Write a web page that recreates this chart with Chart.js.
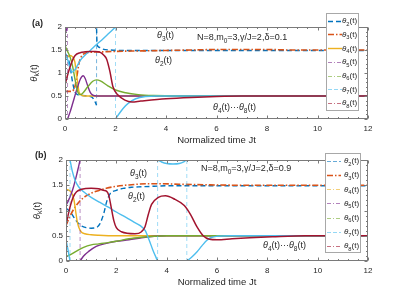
<!DOCTYPE html>
<html>
<head>
<meta charset="utf-8">
<script src="https://cdn.jsdelivr.net/npm/chart.js@4.4.0/dist/chart.umd.min.js"></script>
<style>
  html, body { margin: 0; padding: 0; background: #fff; }
  #wrap { position: relative; width: 415px; height: 294px; }
  #wrap canvas { position: absolute; left: 0; }
</style>
</head>
<body>
<div id="wrap">
  <canvas id="panelA" width="415" height="147" style="top:0"></canvas>
  <canvas id="panelB" width="415" height="147" style="top:147px"></canvas>
</div>
<script>
// panel (a), delta = 0.1  -- a repeated time value marks a wrap (dashed jump)
const a2t = [0, 0.1, 0.2, 0.3, 0.4, 0.5, 0.7, 0.9, 1.05, 1.15, 1.25, 1.25, 1.27, 1.35, 1.5, 1.8, 2.5, 4, 6, 8, 10, 12];
const a2y = [1.42, 1.35, 1.15, 0.8, 0.58, 0.53, 0.51, 0.5, 0.48, 0.42, 0.3, 1.97, 1.62, 1.56, 1.52, 1.5, 1.49, 1.49, 1.49, 1.49, 1.49, 1.49];
const a3t = [0, 0.2, 0.35, 0.45, 0.55, 0.65, 0.8, 1.0, 1.5, 2, 3, 4, 5, 6, 7, 8, 9, 10, 12];
const a3y = [0.6, 0.6, 0.64, 0.85, 1.2, 1.36, 1.43, 1.45, 1.46, 1.47, 1.48, 1.49, 1.5, 1.51, 1.51, 1.51, 1.5, 1.5, 1.5];
const a4t = [0, 0.1, 0.2, 0.3, 0.39, 0.45, 0.5, 0.55, 0.66, 0.8, 1.0, 1.5, 3, 12];
const a4y = [1.32, 1.35, 1.38, 1.35, 1.24, 0.98, 0.8, 0.6, 0.52, 0.5, 0.5, 0.5, 0.5, 0.5];
const a5t = [0, 0.05, 0.1, 0.1, 0.2, 0.3, 0.4, 0.5, 0.6, 0.72, 0.8, 0.9, 1.0, 1.1, 1.25, 1.5, 3, 12];
const a5y = [1.85, 1.93, 2.0, 0, 0.15, 0.33, 0.52, 0.7, 0.86, 0.94, 0.88, 0.72, 0.58, 0.52, 0.5, 0.5, 0.5, 0.5];
const a6t = [0, 0.1, 0.2, 0.3, 0.4, 0.5, 0.6, 0.7, 0.9, 1.1, 1.25, 1.4, 1.7, 2.0, 2.4, 2.9, 3.5, 4.5, 12];
const a6y = [1.6, 1.47, 1.35, 1.15, 0.85, 0.6, 0.53, 0.56, 0.7, 0.82, 0.85, 0.83, 0.72, 0.63, 0.57, 0.53, 0.51, 0.5, 0.5];
const a7t = [0, 0.1, 0.2, 0.28, 0.4, 0.6, 0.8, 1.0, 1.25, 1.5, 1.75, 2.0, 2.0, 2.15, 2.3, 2.5, 2.8, 3.2, 3.6, 4, 6, 12];
const a7y = [1.45, 1.3, 1.1, 1.02, 1.08, 1.27, 1.39, 1.49, 1.62, 1.74, 1.87, 2.0, 0, 0.12, 0.23, 0.34, 0.44, 0.49, 0.5, 0.5, 0.5, 0.5];
const a8t = [0, 0.1, 0.2, 0.3, 0.4, 0.6, 0.8, 1.0, 1.2, 1.4, 1.55, 1.65, 1.78, 1.9, 2.1, 2.37, 2.65, 3.0, 4, 5, 6, 7, 8, 12];
const a8y = [0.74, 0.95, 1.13, 1.28, 1.38, 1.44, 1.46, 1.47, 1.47, 1.45, 1.38, 1.3, 1.03, 0.7, 0.52, 0.41, 0.37, 0.39, 0.44, 0.47, 0.49, 0.5, 0.5, 0.5];

// panel (b), delta = 0.9
const b2t = [0, 0.2, 0.4, 0.6, 0.8, 1.0, 1.2, 1.35, 1.5, 1.62, 1.75, 2.0, 2.3, 2.6, 3.0, 3.5, 4, 5, 6, 8, 10, 12];
const b2y = [1.05, 0.95, 0.8, 0.7, 0.66, 0.65, 0.66, 0.74, 0.94, 1.18, 1.33, 1.4, 1.44, 1.46, 1.47, 1.48, 1.49, 1.49, 1.49, 1.49, 1.49, 1.49];
const b3t = [0, 0.15, 0.3, 0.5, 0.8, 1.2, 1.6, 2.0, 2.6, 3.2, 3.8, 4.5, 5.5, 7, 12];
const b3y = [0.7, 0.88, 1.02, 1.16, 1.29, 1.38, 1.44, 1.48, 1.51, 1.53, 1.53, 1.52, 1.51, 1.5, 1.5];
const b4t = [0, 0.15, 0.25, 0.32, 0.38, 0.44, 0.5, 0.6, 0.75, 1.0, 1.3, 2, 3, 12];
const b4y = [1.42, 1.39, 1.32, 1.2, 1.0, 0.8, 0.68, 0.58, 0.54, 0.52, 0.51, 0.5, 0.5, 0.5];
const b5t = [0, 0.1, 0.2, 0.3, 0.42, 0.5, 0.56, 0.56, 0.7, 0.9, 1.2, 1.6, 2.0, 2.5, 3.0, 3.5, 4, 12];
const b5y = [1.1, 1.2, 1.32, 1.47, 1.7, 1.87, 2.0, 0, 0.1, 0.19, 0.29, 0.35, 0.39, 0.42, 0.46, 0.49, 0.5, 0.5];
const b6t = [0, 0.2, 0.4, 0.7, 1.0, 1.3, 1.6, 2.0, 2.5, 3.0, 3.5, 4, 12];
const b6y = [0.09, 0.13, 0.19, 0.27, 0.32, 0.34, 0.36, 0.39, 0.44, 0.47, 0.49, 0.5, 0.5];
const b7t = [0, 0.08, 0.16, 0.16, 0.25, 0.36, 0.5, 0.7, 1.0, 1.35, 1.7, 2.0, 2.4, 2.7, 2.95, 3.15, 3.3, 3.45, 3.64, 3.64, 3.8, 4.0, 4.25, 4.5, 4.7, 4.8, 4.8, 5.0, 5.2, 5.4, 5.6, 5.8, 6.0, 6.5, 12];
const b7y = [0.42, 0.22, 0, 2.0, 1.78, 1.6, 1.47, 1.37, 1.26, 1.16, 1.06, 0.97, 0.86, 0.77, 0.7, 0.6, 0.42, 0.22, 0, 2.0, 1.96, 1.93, 1.92, 1.93, 1.97, 2.0, 0, 0.08, 0.18, 0.3, 0.41, 0.47, 0.49, 0.5, 0.5];
const b8t = [0, 0.08, 0.16, 0.29, 0.42, 0.62, 1.0, 1.3, 1.48, 1.62, 1.7, 1.8, 1.9, 2.0, 2.2, 2.74, 3.0, 3.14, 3.27, 3.4, 3.67, 3.95, 4.33, 4.7, 4.95, 5.2, 5.45, 5.7, 6.0, 6.6, 7.3, 8.2, 9.5, 12];
const b8y = [0.7, 0.9, 1.07, 1.27, 1.37, 1.42, 1.44, 1.43, 1.4, 1.38, 1.3, 1.05, 0.8, 0.66, 0.58, 0.54, 0.58, 0.68, 0.92, 1.12, 1.26, 1.29, 1.22, 1.1, 0.92, 0.68, 0.5, 0.43, 0.42, 0.44, 0.46, 0.48, 0.5, 0.5];

const FONT = '"Liberation Sans", Arial, sans-serif';
const styles = [
  { color: '#0072BD', w: 1.4, dash: [5, 3] },
  { color: '#D95319', w: 1.6, dash: [6, 2, 1.5, 2] },
  { color: '#EDB120', w: 1.4, dash: [] },
  { color: '#7E2F8E', w: 1.4, dash: [] },
  { color: '#77AC30', w: 1.4, dash: [] },
  { color: '#4DBEEE', w: 1.4, dash: [] },
  { color: '#A2142F', w: 1.5, dash: [] }
];

function buildDatasets(series) {
  const out = [];
  series.forEach(([ts, ys], i) => {
    const k = i + 2, st = styles[i];
    const segs = [[]], jumps = [];
    ts.forEach((t, j) => {
      const p = { x: t, y: ys[j] };
      if (j > 0 && t === ts[j - 1]) {
        jumps.push([{ x: ts[j - 1], y: ys[j - 1] }, p]);
        segs.push([]);
      }
      segs[segs.length - 1].push(p);
    });
    segs.forEach(seg => out.push({
      data: seg, borderColor: st.color, borderWidth: st.w, borderDash: st.dash,
      pointRadius: 0, fill: false, cubicInterpolationMode: 'monotone', order: 8 - k
    }));
    jumps.forEach(seg => out.push({
      data: seg, borderColor: st.color + '88', borderWidth: 1, borderDash: [4, 3],
      pointRadius: 0, fill: false, tension: 0, order: 8 - k
    }));
  });
  return out;
}

// text with italic / subscript parts
function rich(ctx, parts, x, y, size, align) {
  const fontFor = k => (k === 'i' ? 'italic ' : k === 'b' ? 'bold ' : '') + (k === 's' ? size * 0.72 : size) + 'px ' + FONT;
  let w = 0;
  for (const [s, k] of parts) { ctx.font = fontFor(k); w += ctx.measureText(s).width; }
  let cx = align === 'center' ? x - w / 2 : x;
  for (const [s, k] of parts) {
    ctx.font = fontFor(k);
    ctx.fillText(s, cx, k === 's' ? y + size * 0.3 : y);
    cx += ctx.measureText(s).width;
  }
}
const th = k => [['θ', 'i'], [String(k), 's'], ['(t)', 'n']];

function makeDeco(o) {
  return {
    id: 'deco',
    afterDatasetsDraw(chart) {
      const { ctx, chartArea: a, scales: { x, y } } = chart;
      ctx.save();
      ctx.textAlign = 'left';
      ctx.textBaseline = 'alphabetic';
      const L = Math.round(a.left) + 0.5, R = Math.round(a.right) - 0.5;
      const T = Math.round(a.top) + 0.5, B = Math.round(a.bottom) - 0.5;
      ctx.strokeStyle = '#7a7a7a';
      ctx.lineWidth = 1;
      ctx.setLineDash([]);
      ctx.strokeRect(L, T, R - L, B - T);
      ctx.beginPath();
      for (let i = 0; i <= 30; i++) {
        const len = i % 5 === 0 ? 3 : 1.5;
        const px = Math.round(x.getPixelForValue(i * 0.4)) + 0.5;
        ctx.moveTo(px, B); ctx.lineTo(px, B - len);
        ctx.moveTo(px, T); ctx.lineTo(px, T + len);
      }
      for (let i = 0; i <= 20; i++) {
        const len = i % 5 === 0 ? 3 : 1.5;
        const py = Math.round(y.getPixelForValue(i * 0.1)) + 0.5;
        ctx.moveTo(L, py); ctx.lineTo(L + len, py);
        ctx.moveTo(R, py); ctx.lineTo(R - len, py);
      }
      ctx.stroke();

      ctx.fillStyle = '#262626';
      rich(ctx, [['Normalized time Jt', 'n']], (a.left + a.right) / 2, o.xTitleY, 9.5, 'center');
      ctx.save();
      ctx.translate(o.yTitleX, (a.top + a.bottom) / 2);
      ctx.rotate(-Math.PI / 2);
      rich(ctx, th('k'), 0, 3.5, 9.5, 'center');
      ctx.restore();
      rich(ctx, [[o.tag, 'b']], o.tagX, o.tagY, 9);
      rich(ctx, th(3), o.t3[0], o.t3[1], 9);
      rich(ctx, th(2), o.t2[0], o.t2[1], 9);
      rich(ctx, [['N=8,m', 'n'], ['0', 's'], ['=3,γ/J=2,δ=' + o.delta, 'n']], o.par[0], o.par[1], 9);
      rich(ctx, th(4).concat([['···', 'n']], th(8)), o.t48[0], o.t48[1], 9);

      // legend box
      const lg = o.legend;
      ctx.fillStyle = '#fff';
      ctx.fillRect(lg.x, lg.y, lg.w, lg.h);
      ctx.strokeStyle = '#a8a8a8';
      ctx.strokeRect(lg.x + 0.5, lg.y + 0.5, lg.w - 1, lg.h - 1);
      styles.forEach((st, i) => {
        const cy = lg.y0 + i * lg.dy;
        const faint = lg.faint[i];
        ctx.beginPath();
        ctx.strokeStyle = faint ? st.color + '99' : st.color;
        ctx.lineWidth = faint ? 1 : st.w;
        ctx.setLineDash(faint ? (i === 0 || i === 5 ? [4, 2] : [4, 2, 1, 2]) : st.dash);
        ctx.moveTo(lg.x + 2, Math.round(cy) + 0.5);
        ctx.lineTo(lg.x + 16, Math.round(cy) + 0.5);
        ctx.stroke();
        ctx.setLineDash([]);
        ctx.fillStyle = '#262626';
        rich(ctx, th(i + 2), lg.tx, cy + 2.5, 8);
      });
      ctx.restore();
    }
  };
}

function makePanel(id, series, pad, xH, yW, cfg) {
  return new Chart(document.getElementById(id), {
    type: 'line',
    data: { datasets: buildDatasets(series) },
    options: {
      responsive: false,
      animation: false,
      layout: { padding: pad },
      plugins: { legend: { display: false }, tooltip: { enabled: false } },
      scales: {
        x: {
          type: 'linear', min: 0, max: 12,
          ticks: { stepSize: 2, color: '#262626', font: { family: FONT, size: 8 }, padding: 5, maxRotation: 0 },
          grid: { display: false, drawTicks: false },
          border: { display: false },
          afterFit: s => { s.height = xH; }
        },
        y: {
          min: 0, max: 2,
          ticks: { stepSize: 0.5, color: '#262626', font: { family: FONT, size: 8 }, padding: 3,
                   callback: v => String(v) },
          grid: { display: false, drawTicks: false },
          border: { display: false },
          afterFit: s => { s.width = yW; }
        }
      }
    },
    plugins: [makeDeco(cfg)]
  });
}

const seriesA = [[a2t, a2y], [a3t, a3y], [a4t, a4y], [a5t, a5y], [a6t, a6y], [a7t, a7y], [a8t, a8y]];
const seriesB = [[b2t, b2y], [b3t, b3y], [b4t, b4y], [b5t, b5y], [b6t, b6y], [b7t, b7y], [b8t, b8y]];

makePanel('panelA', seriesA, { top: 27, right: 47, left: 0, bottom: 0 }, 28, 65, {
  tag: '(a)', tagX: 32, tagY: 25.5, xTitleY: 143, yTitleX: 33, delta: '0.1',
  t3: [157, 38], t2: [155, 63], par: [197, 40], t48: [213, 110],
  legend: { x: 326, y: 13, w: 33, h: 98, y0: 20.7, dy: 13.7, tx: 342,
            faint: [false, false, false, true, true, true, true] }
});
makePanel('panelB', seriesB, { top: 13, right: 47, left: 0, bottom: 0 }, 33, 66, {
  tag: '(b)', tagX: 35, tagY: 10.5, xTitleY: 138, yTitleX: 36, delta: '0.9',
  t3: [130, 29], t2: [128, 52], par: [201, 24], t48: [263, 101],
  legend: { x: 325, y: 6, w: 36, h: 100, y0: 13.7, dy: 14.2, tx: 344,
            faint: [true, false, true, true, true, true, true] }
});
</script>
</body>
</html>
